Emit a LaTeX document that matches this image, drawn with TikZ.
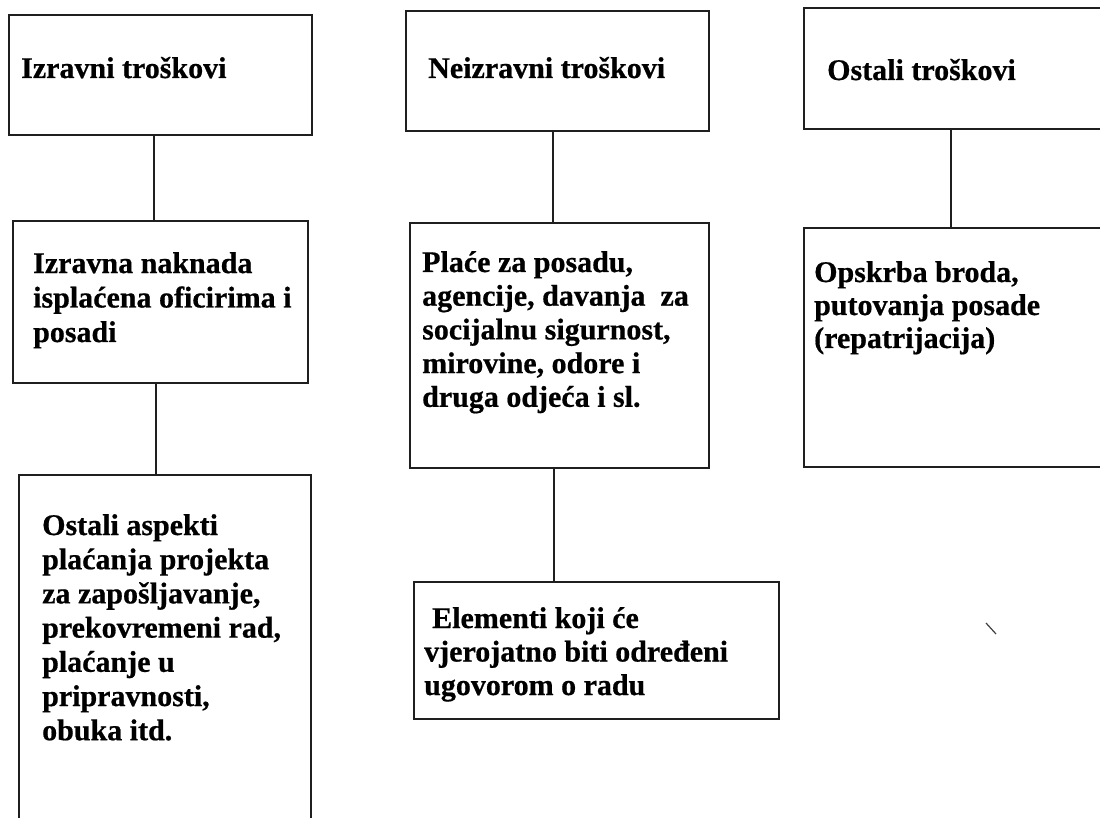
\documentclass[tikz,border=0pt]{standalone}
\usepackage{fontspec}
\setmainfont{Liberation Serif}[BoldFeatures={FakeBold=0.6}]
\begin{document}
\begin{tikzpicture}[x=1pt,y=-1pt,
  box/.style={draw=black!88,line width=1.4pt,rectangle,inner sep=0pt,fill=none},
  conn/.style={draw=black!88,line width=1.3pt},
  lbl/.style={anchor=base west,inner sep=0pt,font=\fontsize{30}{34}\bfseries\selectfont,text=black}]
\useasboundingbox (0,0) rectangle (1100,818);
\clip (0,0) rectangle (1100,818);
\fill[white] (0,0) rectangle (1100,818);
\newcommand{\lines}[2]{\vtop{\baselineskip=#1pt\lineskiplimit=-30pt #2}}
% boxes
\node[box,minimum width=303pt,minimum height=120pt] (a1) at (160.5,75) {};
\node[box,minimum width=295pt,minimum height=162pt] (a2) at (160.5,302) {};
\node[box,minimum width=292pt,minimum height=355pt] (a3) at (165,652.5) {};
\node[box,minimum width=303pt,minimum height=120pt] (b1) at (557.5,71) {};
\node[box,minimum width=299pt,minimum height=245pt] (b2) at (559.5,345.5) {};
\node[box,minimum width=365pt,minimum height=137pt] (b3) at (596.5,650.5) {};
\node[box,minimum width=306pt,minimum height=121pt] (c1) at (957,68.5) {};
\node[box,minimum width=306pt,minimum height=239pt] (c2) at (957,347.5) {};
% connectors
\draw[conn] ([xshift=-6.5pt]a1.south) -- ([xshift=-6.5pt]a2.north);
\draw[conn] ([xshift=-4.5pt]a2.south) -- ([xshift=-9pt]a3.north);
\draw[conn] ([xshift=-4.5pt]b1.south) -- ([xshift=-6.5pt]b2.north);
\draw[conn] ([xshift=-5.5pt]b2.south) -- ([xshift=-42.5pt]b3.north);
\draw[conn] ([xshift=-6pt]c1.south) -- ([xshift=-6pt]c2.north);
% texts
\node[lbl] (a1t) at (21,78) {Izravni troškovi};
\node[lbl] (b1t) at (428,78) {Neizravni troškovi};
\node[lbl] (c1t) at (827,80) {Ostali troškovi};
\node[lbl] (a2t) at (33,273) {\lines{34.5}{\hbox{Izravna naknada}\hbox{isplaćena oficirima i}\hbox{posadi}}};
\node[lbl] (b2t) at (422,272) {\lines{33.7}{\hbox{Plaće za posadu,}\hbox{agencije, davanja\ \ za}\hbox{socijalnu sigurnost,}\hbox{mirovine, odore i}\hbox{druga odjeća i sl.}}};
\node[lbl] (c2t) at (814,282) {\lines{33}{\hbox{Opskrba broda,}\hbox{putovanja posade}\hbox{(repatrijacija)}}};
\node[lbl] (a3t) at (42,535) {\lines{34.2}{\hbox{Ostali aspekti}\hbox{plaćanja projekta}\hbox{za zapošljavanje,}\hbox{prekovremeni rad,}\hbox{plaćanje u}\hbox{pripravnosti,}\hbox{obuka itd.}}};
\node[lbl] (b3t) at (424,628) {\lines{33.5}{\hbox{\hspace{8pt}Elementi koji će}\hbox{vjerojatno biti određeni}\hbox{ugovorom o radu}}};
% stray tick mark
\coordinate (m1) at (986,623);
\coordinate (m2) at (996,634);
\draw[black!75,line width=1.2pt] (m1) -- (m2);
\end{tikzpicture}
\end{document}
